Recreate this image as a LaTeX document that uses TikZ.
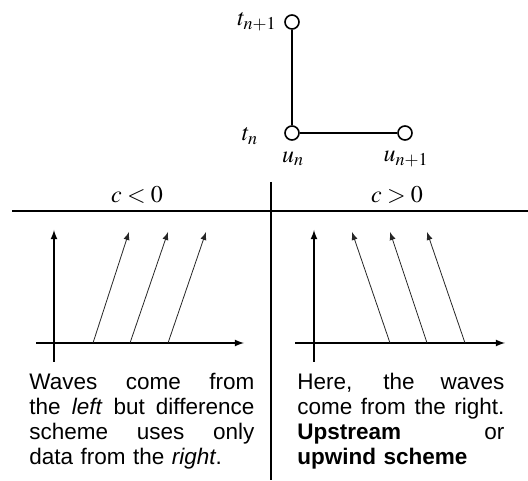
\documentclass[tikz,border=0pt]{standalone}
\usepackage{mathptmx}
\usepackage[no-math]{fontspec}
\setsansfont{Liberation Sans}

\tikzset{
  dot/.style={draw,circle,thick,minimum size=7pt,inner sep=0pt},
  lab/.style={inner sep=1pt,font=\large},
  wave/.style={->,black!85,thin},
  axis/.style={->,semithick},
  txt/.style={font=\sffamily\fontsize{11.25}{12.5}\selectfont,inner sep=0pt,anchor=north west,align=left}
}
\newcommand{\jline}[1]{\makebox[\linewidth][s]{\spaceskip=0pt\relax #1}}

\begin{document}
\begin{tikzpicture}[x=0.5pt,y=0.5pt,>=latex]
  \useasboundingbox (0,0) rectangle (528,480);
  % stencil
  \node[dot] (tnp) at (292,458) {};
  \node[dot] (tn) at (292,347) {};
  \node[dot] (unp) at (405,347) {};
  \draw[thick] (tnp) -- (tn) -- (unp);
  \node[lab] (ltnp) at (257,458) {$t_{n+1}$};
  \node[lab] (ltn) at (250,344) {$t_n$};
  \node[lab] (lun) at (293,321) {$u_n$};
  \node[lab] (lunp) at (406,321) {$u_{n+1}$};
  % table
  \draw[thick] (12,269) -- (528,269);
  \draw[thick] (271,298) -- (271,0);
  \node[lab] (cneg) at (137,285) {$c<0$};
  \node[lab] (cpos) at (397,285) {$c>0$};
  % left plot
  \draw[axis] (54,118) -- (54,250);
  \draw[axis] (36,137) -- (244,137);
  \draw[wave] (93,137) -- (129,248);
  \draw[wave] (130,137) -- (168,248);
  \draw[wave] (168,137) -- (206,248);
  % right plot
  \draw[axis] (314,118) -- (314,250);
  \draw[axis] (295,137) -- (505,137);
  \draw[wave] (390,137) -- (352,248);
  \draw[wave] (427,137) -- (390,248);
  \draw[wave] (465,137) -- (427,248);
  % texts
  \node[txt,text width=112.5pt] (tleft) at (29,107)
    {\jline{Waves come from}\\
     \jline{the \emph{left} but difference}\\
     \jline{scheme uses only}\\
     data from the \emph{right}.};
  \node[txt,text width=103.5pt] (tright) at (297,107)
    {\jline{Here, the waves}\\
     \jline{come from the right.}\\
     \jline{\textbf{Upstream} or}\\
     \textbf{upwind scheme}};
\end{tikzpicture}
\end{document}
